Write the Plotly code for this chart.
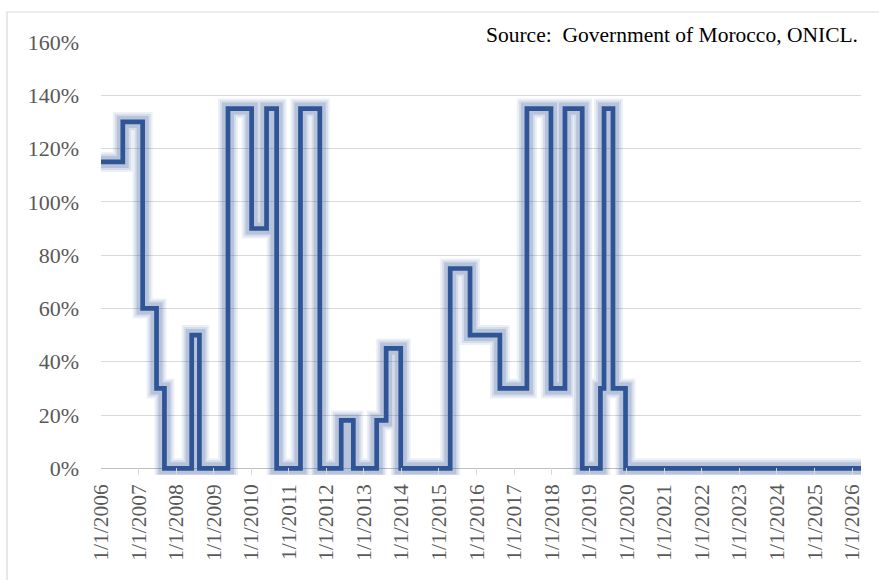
import plotly.graph_objects as go

# Step-change dates and rate values (%)
dates = [
    "2006-01-01", "2006-08-01", "2007-02-10", "2007-06-25", "2007-09-10",
    "2008-06-01", "2008-08-15", "2009-05-20", "2010-01-05", "2010-05-30",
    "2010-09-05", "2011-04-25", "2011-10-30", "2012-05-25", "2012-09-20",
    "2013-05-05", "2013-08-05", "2013-12-25", "2015-04-20", "2015-10-30",
    "2016-08-15", "2017-05-05", "2017-12-25", "2018-05-10", "2018-10-25",
    "2019-04-20", "2019-05-25", "2019-08-20", "2019-12-20", "2026-03-28",
]
values = [
    115, 130, 60, 30, 0,
    50, 0, 135, 90, 135,
    0, 135, 0, 18, 0,
    18, 45, 0, 75, 50,
    30, 135, 30, 135, 0,
    30, 135, 30, 0, 0,
]

tick_years = list(range(2006, 2027))
tick_vals = [f"{y}-01-01" for y in tick_years]
tick_text = [f"1/1/{y}" for y in tick_years]

y_ticks = [0, 20, 40, 60, 80, 100, 120, 140, 160]
y_text = [f"{v}%" for v in y_ticks]

source_text = "Source:\u00a0 Government of Morocco, ONICL."

LINE = "#2F5597"
GRID = "#D9D9D9"
FONT = "Liberation Serif"

fig = go.Figure()

# glow layers
for w, a in [(20, 0.09), (16, 0.12), (12, 0.18)]:
    fig.add_trace(go.Scatter(
        x=dates, y=values, mode="lines", line_shape="hv",
        line=dict(color=f"rgba(47,85,151,{a})", width=w),
        hoverinfo="skip", showlegend=False,
    ))

fig.add_trace(go.Scatter(
    x=dates, y=values, mode="lines", line_shape="hv",
    line=dict(color=LINE, width=4.7),
    showlegend=False,
))

fig.update_layout(
    width=879, height=580,
    margin=dict(l=101, r=18, t=42, b=105),
    paper_bgcolor="white", plot_bgcolor="white",
    font=dict(family=FONT, size=22, color="#595959"),
    xaxis=dict(
        type="date",
        range=["2006-01-01", "2026-03-28"],
        tickmode="array", tickvals=tick_vals, ticktext=tick_text,
        tickangle=-90,
        ticks="inside", ticklen=7, tickcolor=GRID, tickwidth=1,
        showgrid=False, showline=False, zeroline=False,
        ticklabelstandoff=4,
        tickfont=dict(family=FONT, size=21.5, color="#595959"),
    ),
    yaxis=dict(
        range=[-2.5, 160],
        tickmode="array", tickvals=y_ticks, ticktext=y_text,
        showgrid=True, gridcolor=GRID, gridwidth=1,
        zeroline=True, zerolinecolor="#BFBFBF", zerolinewidth=1,
        showline=False, ticks="",
        ticklabelstandoff=21,
        tickfont=dict(family=FONT, size=22, color="#595959"),
    ),
    shapes=[dict(
        type="rect", xref="paper", yref="paper",
        x0=(7 - 101) / 760, x1=(890 - 101) / 760,
        y0=(475 - 600) / 433, y1=(475 - 12) / 433,
        line=dict(color=GRID, width=1.2), fillcolor="rgba(0,0,0,0)",
        layer="below",
    )],
    annotations=[dict(
        text=source_text, xref="paper", yref="paper",
        x=(860 - 101) / 760, y=(475 - 35) / 433,
        xanchor="right", yanchor="middle", showarrow=False,
        font=dict(family=FONT, size=21.5, color="#000000"),
    )],
)

fig.write_html("out.html")
